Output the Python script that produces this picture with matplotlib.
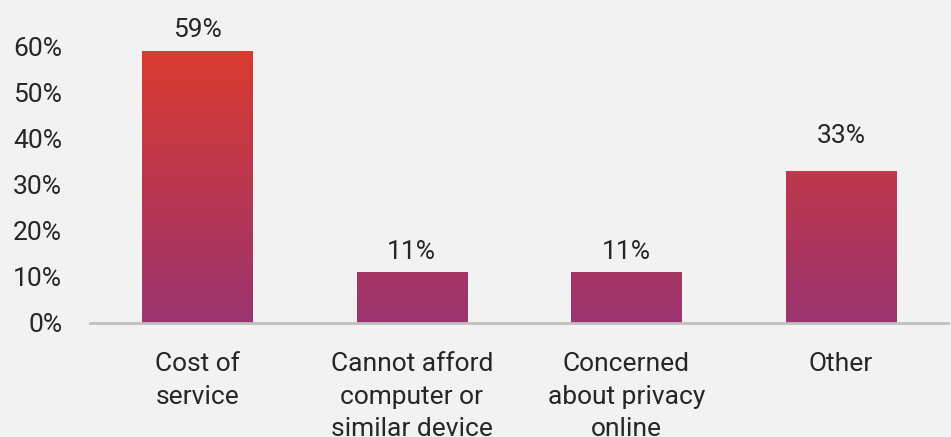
import numpy as np
import matplotlib.pyplot as plt
from matplotlib.colors import LinearSegmentedColormap, Normalize

categories = ['Cost of\nservice', 'Cannot afford\ncomputer or\nsimilar device',
              'Concerned\nabout privacy\nonline', 'Other']
values = [59, 11, 11, 33]
yticks = [0, 10, 20, 30, 40, 50, 60]

plt.rcParams['font.family'] = ['Roboto', 'DejaVu Sans']
text_color = '#262626'
bg = '#f2f2f2'
fs = 19

fig = plt.figure(figsize=(9.51, 4.37), dpi=100, facecolor=bg)
ax = fig.add_axes([90 / 951, 114 / 437, 858 / 951, 277 / 437], facecolor=bg)

# purple at the baseline fading to red at the tallest bar
cmap = LinearSegmentedColormap.from_list('bar_grad', ['#9b3470', '#da3a2f'])
norm = Normalize(0, max(values))

# the "Other" label sits a little higher above its bar
label_pad = [6, 6, 6, 16]

x = np.arange(len(categories))
width = 0.513
bars = ax.bar(x, values, width=width, color='none', edgecolor='none')
for bar, v, pad in zip(bars, values, label_pad):
    x0 = bar.get_x()
    grad = np.linspace(0, v, 256).reshape(-1, 1)
    im = ax.imshow(grad, cmap=cmap, norm=norm, origin='lower', aspect='auto',
                   extent=[x0, x0 + bar.get_width(), 0, v], zorder=2)
    im.set_clip_path(bar)
    ax.annotate(f'{v}%', (bar.get_x() + bar.get_width() / 2, v),
                xytext=(0, pad), textcoords='offset points', ha='center', va='bottom',
                fontsize=fs, color=text_color, annotation_clip=False)

ax.set_xlim(-0.5, len(categories) - 0.5)
ax.set_ylim(0, 60)
ax.set_yticks(yticks)
ax.set_yticklabels([f'{t}%' for t in yticks])
ax.set_xticks(x)
ax.set_xticklabels(categories, linespacing=1.45)
ax.tick_params(axis='both', length=0, labelsize=fs, labelcolor=text_color)
ax.tick_params(axis='y', pad=20)
ax.tick_params(axis='x', pad=21)

for s in ['top', 'right', 'left']:
    ax.spines[s].set_visible(False)
ax.spines['bottom'].set_color('#bfbfbf')
ax.spines['bottom'].set_linewidth(2)
ax.spines['bottom'].set_zorder(3)

fig.savefig('out.png', dpi=100, facecolor=bg)
